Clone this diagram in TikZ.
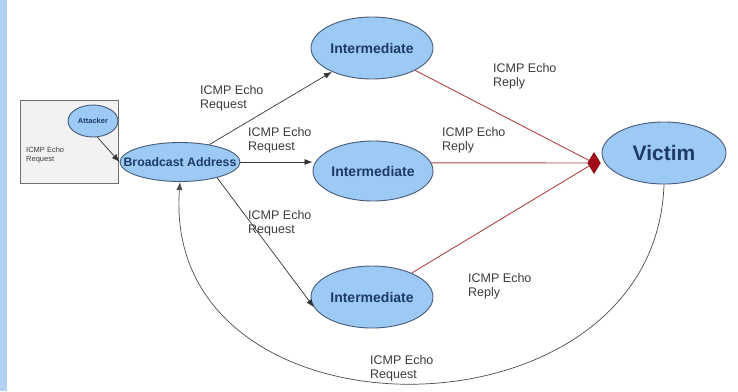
\documentclass[tikz,border=0pt]{standalone}
\usepackage{fontspec}
\setmainfont{Liberation Sans}
\usetikzlibrary{shapes.geometric,arrows.meta}
\definecolor{strip}{RGB}{176,210,245}
\definecolor{efill}{RGB}{156,202,245}
\definecolor{edraw}{RGB}{70,90,120}
\definecolor{etext}{RGB}{30,58,102}
\definecolor{boxfill}{RGB}{242,242,242}
\definecolor{boxdraw}{RGB}{110,110,110}
\definecolor{replyred}{RGB}{175,70,70}
\definecolor{tipred}{RGB}{165,10,25}
\definecolor{lbl}{RGB}{60,60,60}
\tikzset{
  hostnode/.style={ellipse,draw=edraw,line width=0.9pt,fill=efill,text=etext,inner sep=0pt},
  msg/.style={font=\fontsize{12.5}{14.5}\selectfont,text=lbl,align=left,anchor=north west,inner sep=0pt},
  req/.style={draw=black!80,line width=0.7pt,-{Latex[length=8pt,width=6pt]}},
  rep/.style={draw=replyred,line width=0.9pt}
}
\begin{document}
\begin{tikzpicture}[x=1pt,y=-1pt]
\useasboundingbox (0,0) rectangle (738,391);
\fill[white] (0,0) rectangle (738,391);
\fill[strip] (0,0) rectangle (7,391);
% attacker box
\node[draw=boxdraw,fill=boxfill,line width=0.9pt,minimum width=98pt,minimum height=83pt,inner sep=0pt] (box) at (69,141.5) {};
\node[msg,font=\fontsize{7.5}{9}\selectfont] (boxlbl) at (26,147) {ICMP Echo\\Request};
\node[hostnode,minimum width=50pt,minimum height=32pt,font=\bfseries\fontsize{7.5}{9}\selectfont] (att) at (93,121) {\makebox[0pt]{Attacker}};
% hosts
\node[hostnode,minimum width=120pt,minimum height=39pt,font=\bfseries\fontsize{12.3}{14}\selectfont] (ba) at (180,162) {\makebox[0pt]{Broadcast Address}};
\node[hostnode,minimum width=122pt,minimum height=62pt,font=\bfseries\fontsize{14}{16}\selectfont] (i1) at (372,48) {Intermediate};
\node[hostnode,minimum width=120pt,minimum height=60pt,font=\bfseries\fontsize{14}{16}\selectfont] (i2) at (373,171) {Intermediate};
\node[hostnode,minimum width=122pt,minimum height=62pt,font=\bfseries\fontsize{14}{16}\selectfont] (i3) at (372,297) {Intermediate};
\node[hostnode,minimum width=124pt,minimum height=62pt,font=\bfseries\fontsize{21}{24}\selectfont] (vic) at (664,153) {Victim};
\node[diamond,fill=tipred,draw=tipred!70!black,minimum width=13pt,minimum height=21pt,inner sep=0pt] (dia) at (594,163) {};
% request arrows
\draw[req] (att.-75) -- (ba.west);
\draw[req] (ba) -- (i1);
\draw[req] (ba.east) -- (i2.west |- ba.east);
\draw[req] (ba.-23) -- (i3.190);
% reply lines
\draw[rep] (i1) -- (dia);
\draw[rep] (i2.8) -- (dia);
\draw[rep] (i3) -- (dia);
% back request
\draw[draw=black!70,line width=0.7pt,-{Latex[length=8pt,width=6pt]}] (vic.south) .. controls (655,450) and (160,450) .. (ba.south);
% labels
\node[msg] (l1) at (200,85) {ICMP Echo\\Request};
\node[msg] (l2) at (248,127) {ICMP Echo\\Request};
\node[msg] (l3) at (248,210) {ICMP Echo\\Request};
\node[msg] (r1) at (493,63) {ICMP Echo\\Reply};
\node[msg] (r2) at (442,127) {ICMP Echo\\Reply};
\node[msg] (r3) at (468,273) {ICMP Echo\\Reply};
\node[msg] (l4) at (370,355) {ICMP Echo\\Request};
\end{tikzpicture}
\end{document}
